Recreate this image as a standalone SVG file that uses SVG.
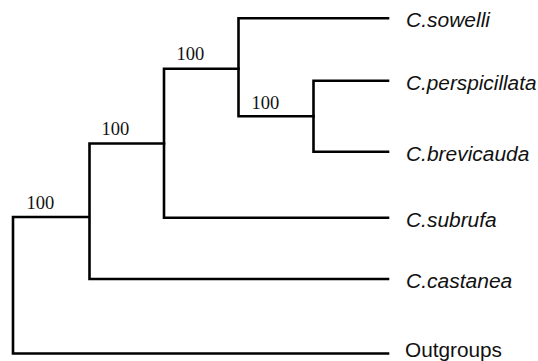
<svg xmlns="http://www.w3.org/2000/svg" width="538" height="361" viewBox="0 0 538 361">
  <style>
    .br { fill: none; stroke: #000; stroke-width: 2.6; stroke-linecap: square; stroke-linejoin: miter; }
    .sp { font-family: "Liberation Sans", Arial, sans-serif; font-size: 20.5px; font-style: italic; fill: #111; }
    .og { font-family: "Liberation Sans", Arial, sans-serif; font-size: 20px; fill: #111; }
    .bs { font-family: "Liberation Serif", "Times New Roman", serif; font-size: 18.5px; fill: #111; }
  </style>
  <rect width="538" height="361" fill="#fff"/>

  <!-- tree branches -->
  <g id="connectors">
    <!-- root -->
    <path class="br" d="M88,217 H13 V353.5 H388"/>
    <!-- clade: castanea + rest -->
    <path class="br" d="M164,143.5 H89.5 V279 H388"/>
    <!-- clade: subrufa + rest -->
    <path class="br" d="M238.5,68.7 H164 V217.7 H388"/>
    <!-- clade: sowelli + rest -->
    <path class="br" d="M388,18.3 H238.5 V116.3 H313.5"/>
    <!-- clade: perspicillata + brevicauda -->
    <path class="br" d="M388,80.7 H313.5 V151.7 H388"/>
  </g>

  <!-- bootstrap support -->
  <g id="support">
    <text class="bs" x="26.5" y="209">100</text>
    <text class="bs" x="101.5" y="135">100</text>
    <text class="bs" x="176.5" y="60">100</text>
    <text class="bs" x="251.5" y="108.5">100</text>
  </g>

  <!-- tip labels -->
  <g id="tip-sowelli"><text class="sp" x="406" y="27.3" textLength="84" lengthAdjust="spacingAndGlyphs">C.sowelli</text></g>
  <g id="tip-perspicillata"><text class="sp" x="406" y="89.5" textLength="130.5" lengthAdjust="spacingAndGlyphs">C.perspicillata</text></g>
  <g id="tip-brevicauda"><text class="sp" x="406" y="161" textLength="123.3" lengthAdjust="spacingAndGlyphs">C.brevicauda</text></g>
  <g id="tip-subrufa"><text class="sp" x="406" y="226.5" textLength="90.7" lengthAdjust="spacingAndGlyphs">C.subrufa</text></g>
  <g id="tip-castanea"><text class="sp" x="406" y="288" textLength="106.3" lengthAdjust="spacingAndGlyphs">C.castanea</text></g>
  <g id="tip-outgroups"><text class="og" x="405" y="356.5" textLength="97" lengthAdjust="spacingAndGlyphs">Outgroups</text></g>
</svg>
